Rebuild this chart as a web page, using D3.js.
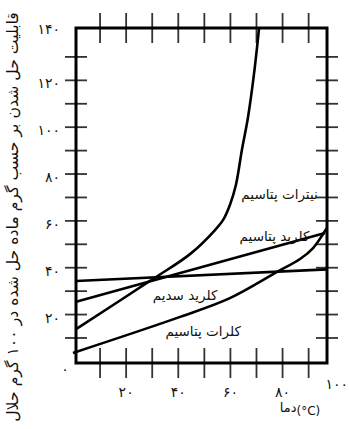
<!DOCTYPE html>
<html><head><meta charset="utf-8">
<script src="https://cdn.jsdelivr.net/npm/d3@7"></script>
<style>body{margin:0;background:#fff}svg{display:block}text{font-family:"DejaVu Sans",sans-serif;fill:#111}</style>
</head><body><svg id="c" width="349" height="429"></svg>
<script>
// ---- data (temperature °C, solubility g / 100 g water) ----
const nitrateT = [0.8, 30.3, 44.5, 54.1, 57.2, 59.8, 62.1, 64.4, 66.7, 69.0, 71.0];
const nitrateV = [13.8, 35.2, 45.8, 56.1, 60.4, 66.8, 75.3, 90.3, 103.9, 122.3, 142.4];
const kclT = [0.8, 96.3];
const kclV = [25.5, 54.8];
const naclT = [0.8, 97.0];
const naclV = [34.3, 39.3];
const chlorateT = [-0.4, 40.7, 59.8, 77.9, 86.7, 91.7, 97.0];
const chlorateV = [3.6, 19.0, 27.0, 38.2, 43.7, 48.4, 57.0];
const seriesNames = ["نیترات پتاسیم", "کلرید پتاسیم", "کلرید سدیم", "کلرات پتاسیم"];
const xTickLabels = ["۰", "۲۰", "۴۰", "۶۰", "۸۰", "۱۰۰"];
const xTickValues = [0, 20, 40, 60, 80, 100];
const yTickLabels = ["۲۰", "۴۰", "۶۰", "۸۰", "۱۰۰", "۱۲۰", "۱۴۰"];
const yTickValues = [20, 40, 60, 80, 100, 120, 140];
const minorX = [10, 20, 30, 40, 50, 60, 70, 80, 90];
const minorY = [10, 20, 30, 40, 50, 60, 70, 80, 90, 100, 110, 120, 130];
const yTitle = "قابلیت حل شدن بر حسب گرم ماده حل شده در ۱۰۰ گرم حلال";
const xTitle = "دما";
const xUnit = "(°C)";

// ---- layout ----
const svg = d3.select("#c");
const frame = {left: 76, right: 327, top: 28, bottom: 363};
const x = d3.scaleLinear().domain([0, 100]).range([74, 334.7]);
const y = d3.scaleLinear().domain([0, 140]).range([361.4, 33.5]);

// ticks (crossing the frame)
const tickCol = "#333";
const g = svg.append("g");
[frame.bottom, frame.top].forEach(yy => {
  g.selectAll(null).data(minorX).enter().append("line")
    .attr("x1", d => x(d)).attr("x2", d => x(d))
    .attr("y1", yy - 15).attr("y2", yy + 15)
    .attr("stroke", tickCol).attr("stroke-width", 1.8);
});
[frame.left, frame.right].forEach(xx => {
  g.selectAll(null).data(minorY).enter().append("line")
    .attr("y1", d => y(d)).attr("y2", d => y(d))
    .attr("x1", xx - 11).attr("x2", xx + 11)
    .attr("stroke", tickCol).attr("stroke-width", 1.8);
});

// frame
svg.append("rect").attr("x", frame.left).attr("y", frame.top)
  .attr("width", frame.right - frame.left).attr("height", frame.bottom - frame.top)
  .attr("fill", "none").attr("stroke", "#000").attr("stroke-width", 3);

// curves
const mk = (T, V) => T.map((t, i) => [t, V[i]]);
const lineSmooth = d3.line().x(d => x(d[0])).y(d => y(d[1])).curve(d3.curveCatmullRom.alpha(0.5));
const lineStraight = d3.line().x(d => x(d[0])).y(d => y(d[1]));
const series = [
  {pts: mk(nitrateT, nitrateV), gen: lineSmooth},
  {pts: mk(kclT, kclV), gen: lineStraight},
  {pts: mk(naclT, naclV), gen: lineStraight},
  {pts: mk(chlorateT, chlorateV), gen: lineSmooth}
];
svg.selectAll(".curve").data(series).enter().append("path")
  .attr("class", "curve")
  .attr("d", d => d.gen(d.pts))
  .attr("fill", "none").attr("stroke", "#000").attr("stroke-width", 2.6)
  .attr("stroke-linejoin", "round");

// curve labels (anchored at the end of the label = its right side)
const labelAt = [[93.5, 71], [90.3, 53], [55, 28], [64, 12.5]];
svg.selectAll(".clab").data(seriesNames).enter().append("text")
  .attr("class", "clab")
  .attr("x", (d, i) => x(labelAt[i][0])).attr("y", (d, i) => y(labelAt[i][1]))
  .attr("text-anchor", "end").attr("font-size", 13.5)
  .attr("dominant-baseline", "middle")
  .text(d => d);

// x tick labels
const xLabY = v => v === 0 ? 370 : (v === 100 ? 385 : 393);
const xLabDx = v => v === 0 ? -9 : (v === 100 ? 2 : 0);
svg.selectAll(".xl").data(xTickValues).enter().append("text")
  .attr("x", d => x(d) + xLabDx(d)).attr("y", d => xLabY(d))
  .attr("text-anchor", "middle").attr("dominant-baseline", "middle")
  .attr("font-size", 14)
  .text((d, i) => xTickLabels[i]);

// y tick labels
svg.selectAll(".yl").data(yTickValues).enter().append("text")
  .attr("x", 60).attr("y", d => d === 140 ? 30 : y(d) + 4)
  .attr("text-anchor", "end").attr("dominant-baseline", "middle")
  .attr("font-size", 14)
  .text((d, i) => yTickLabels[i]);

// x title
const xt = svg.append("text").attr("x", 300).attr("y", 413)
  .attr("text-anchor", "middle").attr("direction", "ltr").attr("font-size", 13);
xt.append("tspan").attr("dy", "-1").text(xTitle);
xt.append("tspan").attr("dy", "3").attr("font-size", 12).text(xUnit);

// y title
const yt = svg.append("text").attr("transform", "translate(13,217) rotate(-90)")
  .attr("text-anchor", "middle").attr("dominant-baseline", "middle")
  .attr("font-size", 14).text(yTitle);
const L = yt.node().getComputedTextLength();
yt.attr("font-size", 14 * 410 / L);
</script></body></html>
